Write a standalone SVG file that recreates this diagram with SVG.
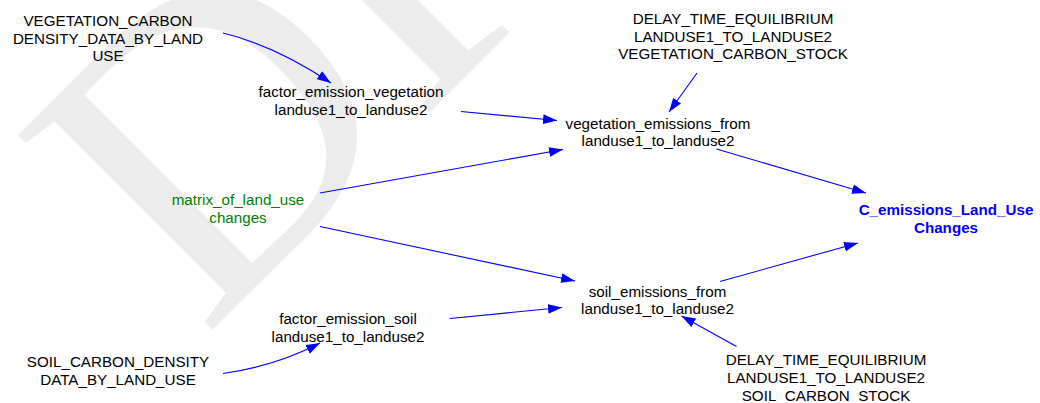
<svg xmlns="http://www.w3.org/2000/svg" width="1040" height="403" viewBox="0 0 1040 403">
  <style>
    text { font-family: "Liberation Sans", Arial, sans-serif; font-size: 15.2px; text-anchor: middle; fill: #000000; }
    .aux { fill: #008000; }
    .out { font-weight: bold; fill: #0000ff; }
    .link { fill: none; stroke: #0000ff; stroke-width: 1.1; marker-end: url(#ah); }
    .wm { font-family: "Liberation Serif", "Times New Roman", serif; font-size: 420px; fill: #ececec; text-anchor: start; }
  </style>
  <defs>
    <marker id="ah" markerUnits="userSpaceOnUse" markerWidth="14" markerHeight="10" refX="13" refY="4.5" orient="auto" viewBox="0 0 13 9">
      <path d="M0,0 L13,4.5 L0,9 z" fill="#0000ff"/>
    </marker>
  </defs>

  <rect width="1040" height="403" fill="#ffffff"/>

  <!-- background watermark -->
  <text class="wm" transform="translate(204 338) rotate(-45)">DRAFT</text>

  <!-- connectors -->
  <g id="connectors">
    <path class="link" d="M223,33 Q276,46 331,83"/>
    <path class="link" d="M461,111.5 L557,120.5"/>
    <path class="link" d="M320,193 L563,149.5"/>
    <path class="link" d="M697,73 L669,112"/>
    <path class="link" d="M716.5,149 L866,193"/>
    <path class="link" d="M720,281.5 L858,243"/>
    <path class="link" d="M320,226.5 L575,281"/>
    <path class="link" d="M450,318.5 L562,307.5"/>
    <path class="link" d="M223,373.5 Q276,366 320,343"/>
    <path class="link" d="M736.5,346.5 L681.5,316"/>
  </g>

  <!-- nodes -->
  <g id="vegetation_carbon_density">
    <text x="108" y="26">VEGETATION_CARBON</text>
    <text x="108" y="43.5">DENSITY_DATA_BY_LAND</text>
    <text x="108" y="61">USE</text>
  </g>
  <g id="factor_emission_vegetation">
    <text x="351" y="97">factor_emission_vegetation</text>
    <text x="351" y="114.5">landuse1_to_landuse2</text>
  </g>
  <g id="delay_vegetation">
    <text x="733" y="24">DELAY_TIME_EQUILIBRIUM</text>
    <text x="733" y="41.5">LANDUSE1_TO_LANDUSE2</text>
    <text x="733" y="59">VEGETATION_CARBON_STOCK</text>
  </g>
  <g id="vegetation_emissions">
    <text x="658" y="129">vegetation_emissions_from</text>
    <text x="658" y="146">landuse1_to_landuse2</text>
  </g>
  <g id="matrix_of_land_use">
    <text class="aux" x="238" y="205">matrix_of_land_use</text>
    <text class="aux" x="238" y="222.5">changes</text>
  </g>
  <g id="c_emissions">
    <text class="out" x="946" y="214.5">C_emissions_Land_Use</text>
    <text class="out" x="946" y="232.5">Changes</text>
  </g>
  <g id="soil_emissions">
    <text x="657.5" y="296.5">soil_emissions_from</text>
    <text x="657.5" y="314">landuse1_to_landuse2</text>
  </g>
  <g id="factor_emission_soil">
    <text x="348" y="324">factor_emission_soil</text>
    <text x="348" y="341.5">landuse1_to_landuse2</text>
  </g>
  <g id="soil_carbon_density">
    <text x="118" y="367">SOIL_CARBON_DENSITY</text>
    <text x="118" y="385">DATA_BY_LAND_USE</text>
  </g>
  <g id="delay_soil">
    <text x="826" y="365">DELAY_TIME_EQUILIBRIUM</text>
    <text x="826" y="383">LANDUSE1_TO_LANDUSE2</text>
    <text x="826" y="401">SOIL_CARBON_STOCK</text>
  </g>
</svg>
